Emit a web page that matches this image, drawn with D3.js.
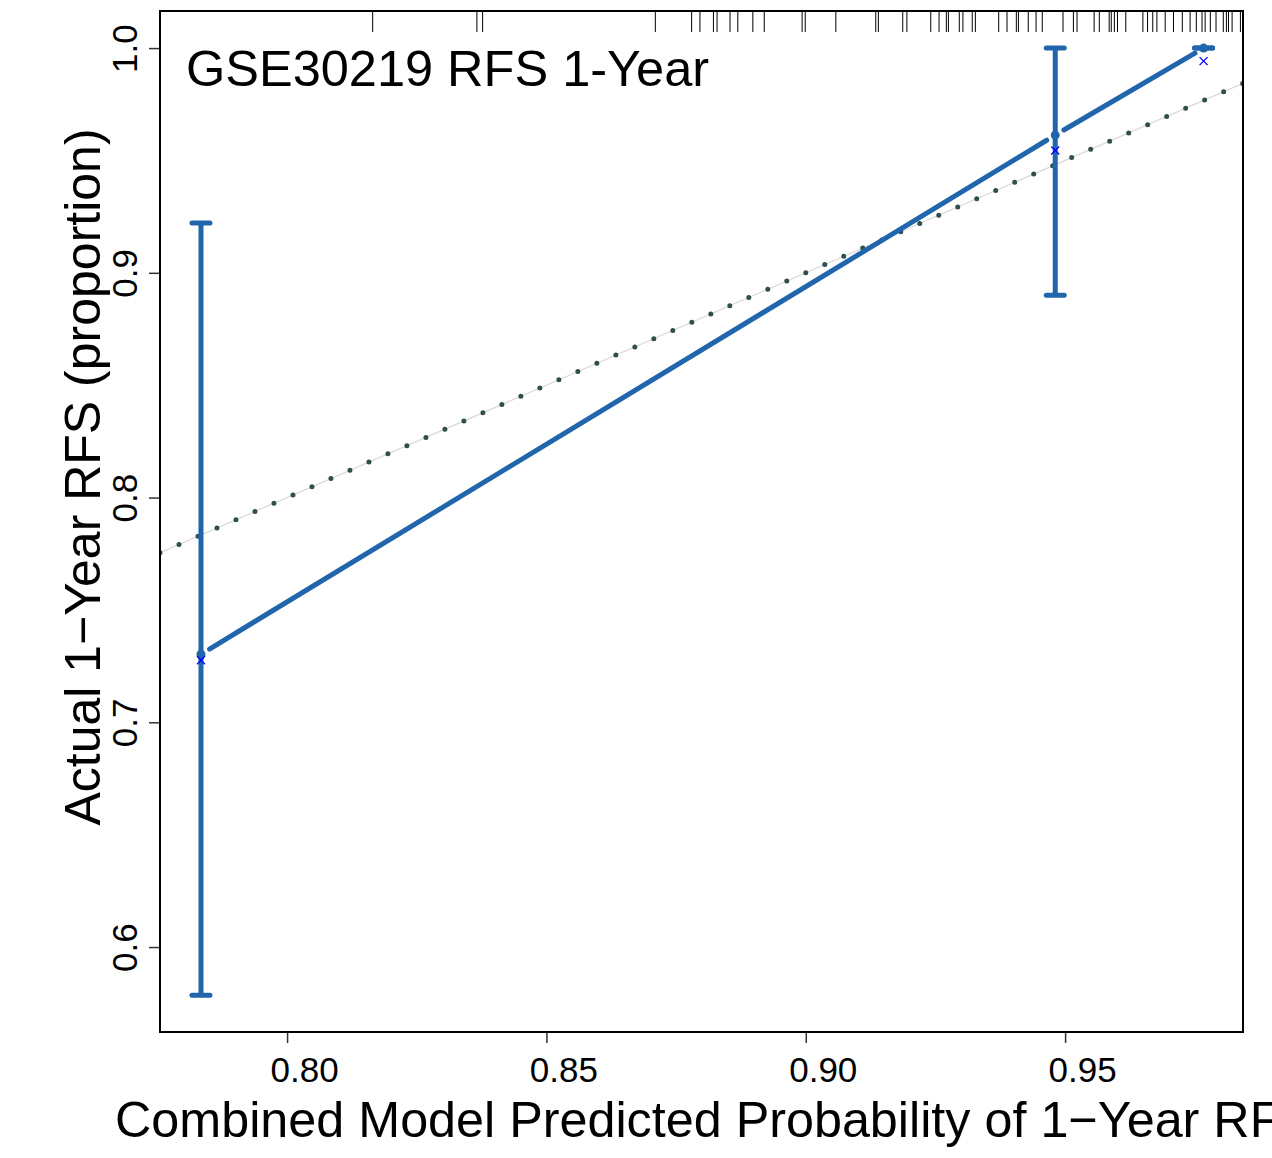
<!DOCTYPE html>
<html>
<head>
<meta charset="utf-8">
<script src="https://cdn.jsdelivr.net/npm/d3@7"></script>
<style>
  html, body { margin: 0; padding: 0; background: #ffffff; }
  svg { display: block; }
  text { font-family: "Liberation Sans", Arial, Helvetica, sans-serif; fill: #000; }
</style>
</head>
<body>
<svg id="chart" width="1272" height="1158"></svg>
<script>
// ---------------- data ----------------
const titleText = "GSE30219 RFS 1-Year";
const xLabel = "Combined Model Predicted Probability of 1\u2212Year RFS";
const yLabel = "Actual 1\u2212Year RFS (proportion)";

const predicted = [0.7834, 0.9481, 0.9767];
const observed  = [0.7303, 0.9613, 1.0000];
const corrected = [0.7276, 0.9544, 0.9942];
const lowerCI   = [0.5786, 0.8900, 1.0000];
const upperCI   = [0.9222, 1.0000, 1.0000];

const xTicks = [0.80, 0.85, 0.90, 0.95];
const yTicks = [0.6, 0.7, 0.8, 0.9, 1.0];

// predicted probabilities of individual samples (rug at top)
const rugValues = [
  0.8165, 0.8366, 0.8377, 0.8710, 0.8780, 0.8796, 0.8822, 0.8829, 0.8854, 0.8869,
  0.8898, 0.8920, 0.8993, 0.8999, 0.9058, 0.9135, 0.9140, 0.9187, 0.9195, 0.9241,
  0.9257, 0.9271, 0.9275, 0.9296, 0.9303, 0.9321, 0.9327, 0.9372, 0.9388, 0.9406,
  0.9410, 0.9429, 0.9444, 0.9456, 0.9496, 0.9516, 0.9523, 0.9556, 0.9566, 0.9585,
  0.9589, 0.9595, 0.9601, 0.9617, 0.9650, 0.9659, 0.9669, 0.9677, 0.9693, 0.9709,
  0.9726, 0.9741, 0.9753, 0.9764, 0.9770, 0.9780, 0.9791, 0.9805, 0.9811, 0.9815,
  0.9822, 0.9838
];

// ---------------- layout ----------------
const plot = { left: 160, right: 1243, top: 11, bottom: 1032 };
const xDomain = [0.7755, 0.9843];
const yDomain = [0.5622, 1.0165];
const blue = "#2166ac";

const svg = d3.select("#chart");
svg.append("rect").attr("width", 1272).attr("height", 1158).attr("fill", "#fff");

const x = d3.scaleLinear().domain(xDomain).range([plot.left, plot.right]);
const y = d3.scaleLinear().domain(yDomain).range([plot.bottom, plot.top]);

svg.append("clipPath").attr("id", "clip")
  .append("rect").attr("x", plot.left).attr("y", plot.top)
  .attr("width", plot.right - plot.left).attr("height", plot.bottom - plot.top);

const g = svg.append("g").attr("clip-path", "url(#clip)");

// ideal line (y = x): light grey solid line + dark dots
const ideal = [xDomain[0], xDomain[1]];
g.append("line")
  .attr("x1", x(ideal[0])).attr("y1", y(ideal[0]))
  .attr("x2", x(ideal[1])).attr("y2", y(ideal[1]))
  .attr("stroke", "#d9d9d9").attr("stroke-width", 1.2);
g.append("line")
  .attr("x1", x(ideal[0])).attr("y1", y(ideal[0]))
  .attr("x2", x(ideal[1])).attr("y2", y(ideal[1]))
  .attr("stroke", "#2f4f4f").attr("stroke-width", 5)
  .attr("stroke-linecap", "round")
  .attr("stroke-dasharray", "0 20.7");

// error bars
const pts = predicted.map((p, i) => ({ p, o: observed[i], c: corrected[i], lo: lowerCI[i], hi: upperCI[i] }));
const capHalf = 9;
pts.forEach(d => {
  g.append("line")
    .attr("x1", x(d.p)).attr("x2", x(d.p))
    .attr("y1", y(d.lo)).attr("y2", y(d.hi))
    .attr("stroke", blue).attr("stroke-width", 5);
  [d.lo, d.hi].forEach(v => {
    g.append("line")
      .attr("x1", x(d.p) - capHalf).attr("x2", x(d.p) + capHalf)
      .attr("y1", y(v)).attr("y2", y(v))
      .attr("stroke", blue).attr("stroke-width", 5)
      .attr("stroke-linecap", "round");
  });
});

// observed line (type "b": segments with gaps round the points)
const gap = 10;
for (let i = 0; i < pts.length - 1; i++) {
  const x1 = x(pts[i].p), y1 = y(pts[i].o), x2 = x(pts[i + 1].p), y2 = y(pts[i + 1].o);
  const len = Math.hypot(x2 - x1, y2 - y1);
  const ux = (x2 - x1) / len, uy = (y2 - y1) / len;
  g.append("line")
    .attr("x1", x1 + ux * gap).attr("y1", y1 + uy * gap)
    .attr("x2", x2 - ux * gap).attr("y2", y2 - uy * gap)
    .attr("stroke", blue).attr("stroke-width", 5)
    .attr("stroke-linecap", "round");
}
// observed points
g.selectAll("circle.obs").data(pts).enter().append("circle")
  .attr("cx", d => x(d.p)).attr("cy", d => y(d.o)).attr("r", 4.5)
  .attr("fill", blue);

// bias-corrected points (x marks)
const xs = 4;
pts.forEach(d => {
  const cx = x(d.p), cy = y(d.c);
  g.append("path")
    .attr("d", `M${cx - xs},${cy - xs}L${cx + xs},${cy + xs}M${cx - xs},${cy + xs}L${cx + xs},${cy - xs}`)
    .attr("stroke", "#0000ff").attr("stroke-width", 1.3).attr("fill", "none");
});

// rug at top
g.selectAll("line.rug").data(rugValues).enter().append("line")
  .attr("class", "rug")
  .attr("x1", d => x(d)).attr("x2", d => x(d))
  .attr("y1", plot.top).attr("y2", plot.top + 21)
  .attr("stroke", "#000").attr("stroke-width", 1);

// box
svg.append("rect")
  .attr("x", plot.left).attr("y", plot.top)
  .attr("width", plot.right - plot.left).attr("height", plot.bottom - plot.top)
  .attr("fill", "none").attr("stroke", "#000").attr("stroke-width", 2);

// x axis
const xAxis = svg.append("g")
  .attr("transform", `translate(0,${plot.bottom + 1})`)
  .call(d3.axisBottom(x).tickValues(xTicks).tickFormat(d3.format(".2f")).tickSize(10).tickSizeOuter(0));
xAxis.select(".domain").remove();
xAxis.selectAll(".tick line").attr("stroke", "#333").attr("stroke-width", 1.5);
xAxis.selectAll(".tick text")
  .attr("y", 0).attr("dy", null)
  .attr("transform", "translate(17,49)")
  .style("font-size", "35px").style("font-family", "'Liberation Sans', Arial, sans-serif");

// y axis
const yAxis = svg.append("g")
  .attr("transform", `translate(${plot.left - 1},0)`)
  .call(d3.axisLeft(y).tickValues(yTicks).tickFormat(d3.format(".1f")).tickSize(10).tickSizeOuter(0));
yAxis.select(".domain").remove();
yAxis.selectAll(".tick line").attr("stroke", "#333").attr("stroke-width", 1.5);
yAxis.selectAll(".tick text")
  .attr("x", 0).attr("dy", null)
  .attr("text-anchor", "middle")
  .attr("transform", "translate(-22,0) rotate(-90)")
  .style("font-size", "35px").style("font-family", "'Liberation Sans', Arial, sans-serif");

// title inside plot
svg.append("text")
  .attr("x", 186).attr("y", 86)
  .style("font-size", "50.5px")
  .text(titleText);

// axis titles
svg.append("text")
  .attr("x", 115).attr("y", 1137)
  .attr("text-anchor", "start")
  .style("font-size", "50.3px")
  .text(xLabel);

svg.append("text")
  .attr("transform", `translate(100,477) rotate(-90)`)
  .attr("text-anchor", "middle")
  .style("font-size", "50px")
  .text(yLabel);
</script>
</body>
</html>
